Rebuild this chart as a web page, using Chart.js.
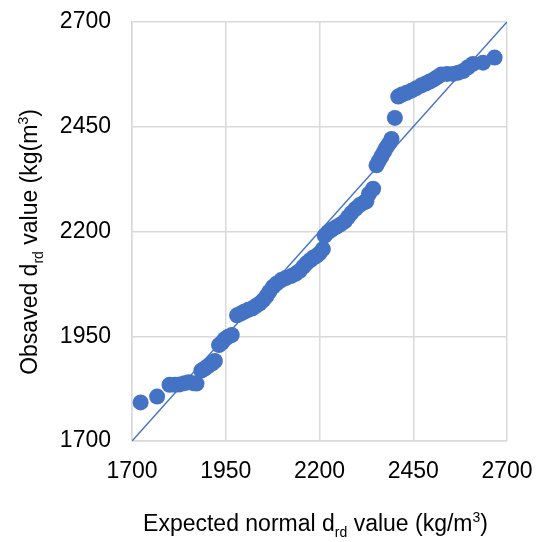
<!DOCTYPE html>
<html>
<head>
<meta charset="utf-8">
<script src="https://cdn.jsdelivr.net/npm/chart.js@4/dist/chart.umd.min.js"></script>
<style>
html,body{margin:0;padding:0;background:#fff;}
#wrap{position:relative;width:551px;height:542px;}
</style>
</head>
<body>
<div id="wrap"><canvas id="c" width="551" height="542"></canvas></div>
<script>
// Expected normal d_rd values (x) and observed d_rd values (y)
const expected = [1723,1767,1800,1815,1827,1840,1851,1863,1872,1885,1894,1903,1913,1921,1932,1940,1947,1955,1966,1980,1990,2000,2010,2020,2030,2040,2050,2058,2066,2076,2086,2098,2110,2125,2136,2147,2157,2165,2176,2184,2192,2200,2209,2214,2222,2232,2245,2256,2267,2276,2285,2296,2307,2318,2325,2332,2343,2352,2358,2365,2372,2378,2385,2392,2401,2410,2420,2432,2445,2458,2472,2483,2494,2505,2515,2525,2540,2556,2570,2583,2596,2609,2636,2667];
const observed = [1792,1806,1834,1834,1835,1838,1840,1838,1837,1868,1873,1879,1885,1891,1929,1935,1943,1948,1953,2000,2004,2009,2013,2016,2022,2028,2036,2045,2056,2068,2076,2084,2089,2094,2099,2106,2116,2124,2132,2138,2142,2148,2158,2190,2198,2204,2211,2217,2224,2234,2244,2254,2263,2269,2272,2290,2302,2358,2368,2379,2390,2400,2409,2421,2471,2522,2527,2531,2536,2542,2549,2553,2558,2563,2569,2575,2576,2576,2579,2583,2592,2600,2603,2615];
// Reference line (y = x)
const refLineX = [1700, 2700];
const refLineY = [1700, 2700];
// Axis tick labels
const tickValues = [1700, 1950, 2200, 2450, 2700];

const BLUE = '#4472C4';
const GRID = '#d9d9d9';
const FONT = '"Liberation Sans", Arial, sans-serif';

function drawRich(ctx, parts, size) {
  let total = 0;
  const segs = parts.map(([t, k]) => {
    const s = k === 'n' ? size : Math.round(size * 0.62);
    ctx.font = s + 'px ' + FONT;
    const w = ctx.measureText(t).width;
    total += w;
    return {t, k, s, w};
  });
  let x = -total / 2;
  segs.forEach(seg => {
    ctx.font = seg.s + 'px ' + FONT;
    let dy = 0;
    if (seg.k === 'sub') dy = size * 0.28;
    if (seg.k === 'sup') dy = -size * 0.38;
    ctx.fillText(seg.t, x, dy);
    x += seg.w;
  });
}

const titlePlugin = {
  id: 'richTitles',
  afterDraw(chart) {
    const ctx = chart.ctx;
    const a = chart.chartArea;
    ctx.save();
    ctx.fillStyle = '#000';
    ctx.textBaseline = 'alphabetic';
    ctx.textAlign = 'left';
    ctx.save();
    ctx.translate((a.left + a.right) / 2 - 4, 531);
    drawRich(ctx, [['Expected normal d','n'],['rd','sub'],[' value (kg/m','n'],['3','sup'],[')','n']], 23);
    ctx.restore();
    ctx.save();
    ctx.translate(37, 242);
    ctx.rotate(-Math.PI / 2);
    drawRich(ctx, [['Obsaved d','n'],['rd','sub'],[' value (kg(m','n'],['3','sup'],[')','n']], 23);
    ctx.restore();
    ctx.restore();
  }
};

const tickOpts = {
  color: '#000',
  font: {family: FONT, size: 23},
  callback: v => String(v)
};

new Chart(document.getElementById('c'), {
  type: 'scatter',
  data: {
    datasets: [
      {
        label: 'Observed',
        data: expected.map((x, i) => ({x: x, y: observed[i]})),
        backgroundColor: BLUE,
        borderColor: BLUE,
        pointRadius: 8,
        pointBorderWidth: 0,
        pointHoverRadius: 8
      },
      {
        label: 'Reference',
        data: refLineX.map((x, i) => ({x: x, y: refLineY[i]})),
        showLine: true,
        borderColor: BLUE,
        borderWidth: 1.5,
        pointRadius: 0,
        fill: false
      }
    ]
  },
  options: {
    responsive: false,
    animation: false,
    devicePixelRatio: 1,
    layout: {padding: {left: 0, right: 44, top: 22, bottom: 0}},
    plugins: {legend: {display: false}, tooltip: {enabled: false}},
    scales: {
      x: {
        type: 'linear',
        min: 1700, max: 2700,
        afterBuildTicks: s => { s.ticks = tickValues.map(v => ({value: v})); },
        afterFit: s => { s.height = 101; s.paddingLeft = 0; s.paddingRight = 0; },
        ticks: Object.assign({padding: 17, maxRotation: 0}, tickOpts),
        grid: {color: GRID, lineWidth: 1.5, drawTicks: false},
        border: {color: GRID, width: 1.5}
      },
      y: {
        type: 'linear',
        min: 1700, max: 2700,
        afterBuildTicks: s => { s.ticks = tickValues.map(v => ({value: v})); },
        afterFit: s => { s.width = 132; s.paddingTop = 0; s.paddingBottom = 0; },
        ticks: Object.assign({padding: 21}, tickOpts),
        grid: {color: GRID, lineWidth: 1.5, drawTicks: false},
        border: {color: GRID, width: 1.5}
      }
    }
  },
  plugins: [titlePlugin]
});
</script>
</body>
</html>
